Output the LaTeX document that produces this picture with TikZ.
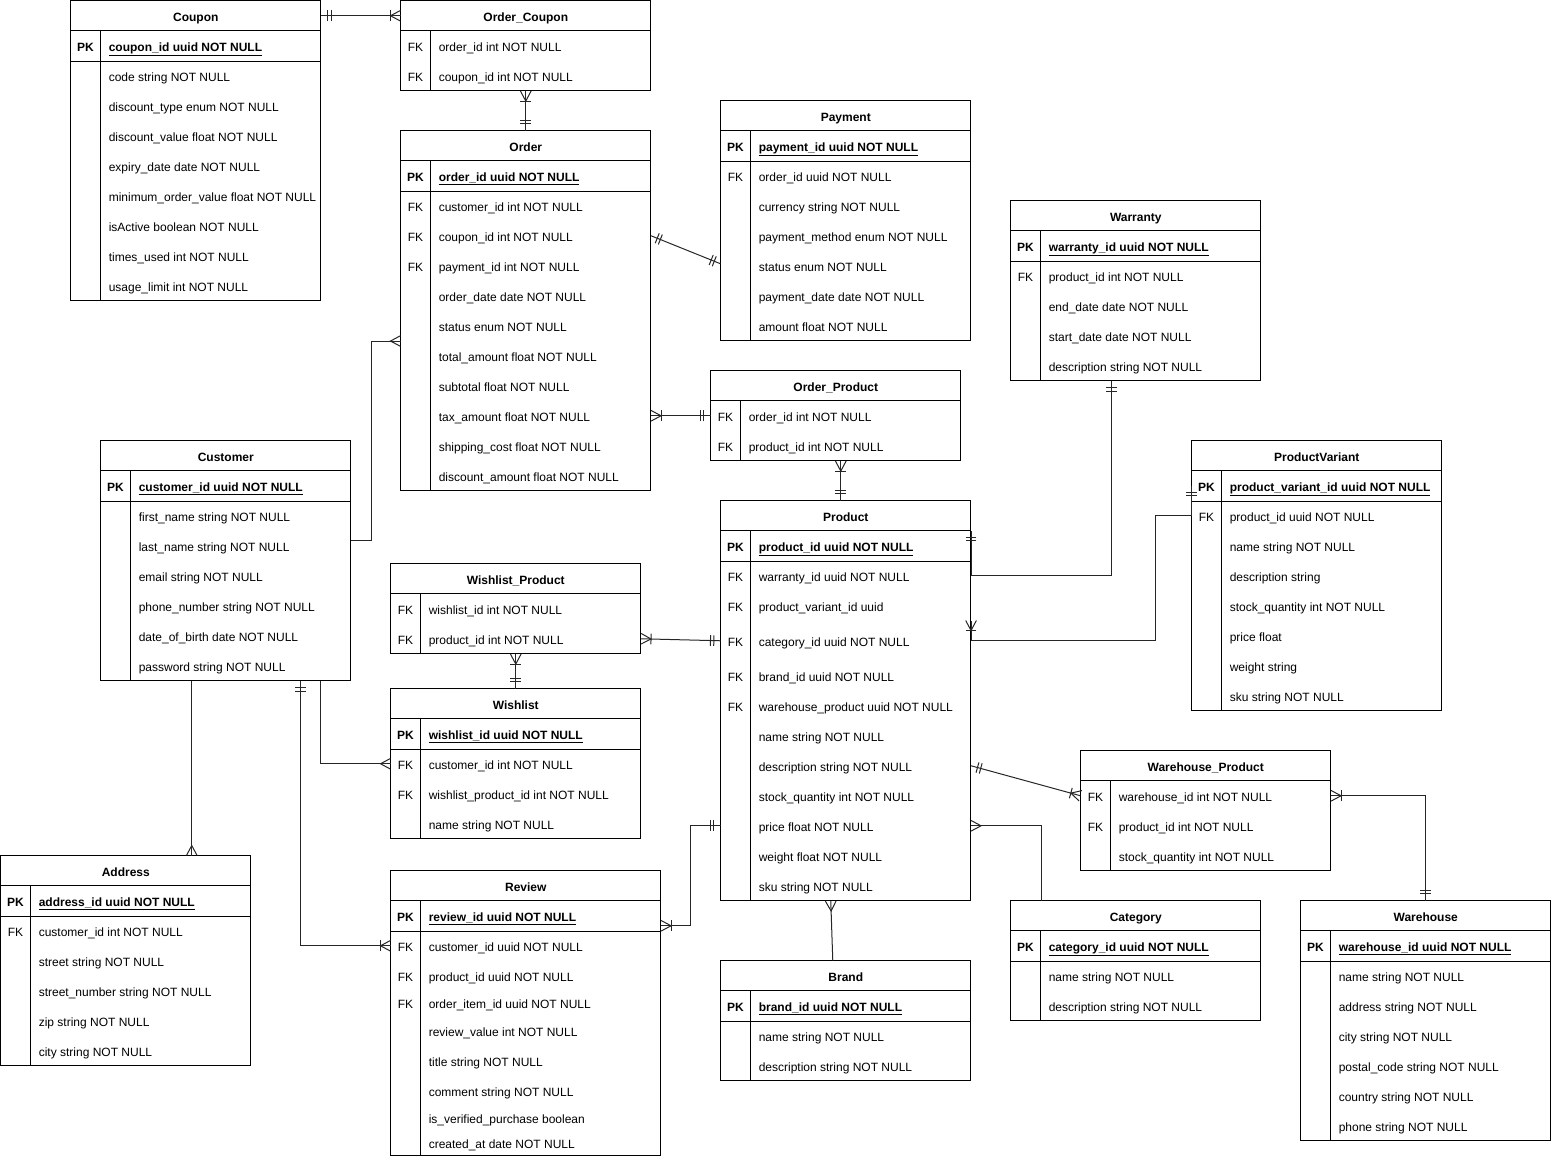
\documentclass[tikz,border=0pt]{standalone}
\usepackage{fontspec}
\setmainfont{Liberation Sans}
\usepackage{tikz}
\usetikzlibrary{calc,decorations.markings}

\newcommand{\pkf}[1]{\underline{\textbf{#1}}}

% one table: id, x, y, width, title, rows (key/field/height)
\newcommand{\ertable}[6]{%
  \node[tblhead, minimum width=#4*0.75pt] (#1) at (#2,#3) {#5};
  \gdef\ertcur{30}%
  \foreach \kk/\ff/\rh [count=\i] in {#6}{%
    \node[tblrow, minimum width=#4*0.75pt, minimum height=\rh*0.75pt] (#1-\i) at (#2,#3+\ertcur) {};
    \node[keytxt] (#1-k\i) at ($(#1-\i.west)+(15,0)$) {\kk};
    \node[fldtxt] (#1-f\i) at ($(#1-\i.west)+(38,0)$) {\ff};
    \pgfmathsetmacro\ertnext{\ertcur+\rh}%
    \xdef\ertcur{\ertnext}%
  }%
  \draw[tblline] (#2,#3) rectangle (#2+#4,#3+\ertcur);
  \draw[tblline] (#2,#3+30) -- (#2+#4,#3+30) (#2+30,#3+30) -- (#2+30,#3+\ertcur);
}

\tikzset{
  txt/.style={inner sep=0pt, text height=8pt, text depth=0pt, font=\fontsize{9}{11}\selectfont},
  tblhead/.style={txt, anchor=north west, minimum height=22.5pt, font=\fontsize{9}{11}\selectfont\bfseries},
  tblrow/.style={anchor=north west, inner sep=0pt},
  keytxt/.style={txt},
  fldtxt/.style={txt, anchor=west},
  tblline/.style={draw=black, line width=0.75pt},
  rel/.style={draw=black!85, line width=0.75pt},
  tick/.style={line width=0.75pt, black!85},
  one start/.style={postaction={decorate, decoration={markings,
    mark=at position 5pt with {\draw[tick] (0,-4pt) -- (0,4pt);},
    mark=at position 7.5pt with {\draw[tick] (0,-4pt) -- (0,4pt);}}}},
  one end/.style={postaction={decorate, decoration={markings,
    mark=at position -5pt with {\draw[tick] (0,-4pt) -- (0,4pt);},
    mark=at position -7.5pt with {\draw[tick] (0,-4pt) -- (0,4pt);}}}},
  many start/.style={postaction={decorate, decoration={markings,
    mark=at position 0 with {\draw[tick] (0,4pt) -- (7.5pt,0) -- (0,-4pt);}}}},
  many end/.style={postaction={decorate, decoration={markings,
    mark=at position 1 with {\draw[tick] (0,4pt) -- (-7.5pt,0) -- (0,-4pt);}}}},
  onemany start/.style={many start, postaction={decorate, decoration={markings,
    mark=at position 7.5pt with {\draw[tick] (0,-4pt) -- (0,4pt);}}}},
  onemany end/.style={many end, postaction={decorate, decoration={markings,
    mark=at position -7.5pt with {\draw[tick] (0,-4pt) -- (0,4pt);}}}},
}

\begin{document}
\begin{tikzpicture}[x=0.75pt, y=-0.75pt]
    \useasboundingbox (-0.5,-0.5) rectangle (1550.5,1155.5);

    % Tables
    \ertable{coupon}{70}{0}{250}{Coupon}{
      \textbf{PK}/\pkf{coupon\_id uuid NOT NULL}/30,
      /code string NOT NULL/30,
      /discount\_type enum NOT NULL/30,
      /discount\_value float NOT NULL/30,
      /expiry\_date date NOT NULL/30,
      /minimum\_order\_value float NOT NULL/30,
      /isActive boolean NOT NULL/30,
      /times\_used int NOT NULL/30,
      /usage\_limit int NOT NULL/30}
    \ertable{ocoupon}{400}{0}{250}{Order\_Coupon}{
      FK/order\_id int NOT NULL/30,
      FK/coupon\_id int NOT NULL/30}
    \ertable{order}{400}{130}{250}{Order}{
      \textbf{PK}/\pkf{order\_id uuid NOT NULL}/30,
      FK/customer\_id int NOT NULL/30,
      FK/coupon\_id int NOT NULL/30,
      FK/payment\_id int NOT NULL/30,
      /order\_date date NOT NULL/30,
      /status enum NOT NULL/30,
      /total\_amount float NOT NULL/30,
      /subtotal float NOT NULL/30,
      /tax\_amount float NOT NULL/30,
      /shipping\_cost float NOT NULL/30,
      /discount\_amount float NOT NULL/30}
    \ertable{payment}{720}{100}{250}{Payment}{
      \textbf{PK}/\pkf{payment\_id uuid NOT NULL}/30,
      FK/order\_id uuid NOT NULL/30,
      /currency string NOT NULL/30,
      /payment\_method enum NOT NULL/30,
      /status enum NOT NULL/30,
      /payment\_date date NOT NULL/30,
      /amount float NOT NULL/30}
    \ertable{warranty}{1010}{200}{250}{Warranty}{
      \textbf{PK}/\pkf{warranty\_id uuid NOT NULL}/30,
      FK/product\_id int NOT NULL/30,
      /end\_date date NOT NULL/30,
      /start\_date date NOT NULL/30,
      /description string NOT NULL/30}
    \ertable{oproduct}{710}{370}{250}{Order\_Product}{
      FK/order\_id int NOT NULL/30,
      FK/product\_id int NOT NULL/30}
    \ertable{customer}{100}{440}{250}{Customer}{
      \textbf{PK}/\pkf{customer\_id uuid NOT NULL}/30,
      /first\_name string NOT NULL/30,
      /last\_name string NOT NULL/30,
      /email string NOT NULL/30,
      /phone\_number string NOT NULL/30,
      /date\_of\_birth date NOT NULL/30,
      /password string NOT NULL/30}
    \ertable{pv}{1191}{440}{250}{ProductVariant}{
      \textbf{PK}/\pkf{product\_variant\_id uuid NOT NULL}/30,
      FK/product\_id uuid NOT NULL/30,
      /name string NOT NULL/30,
      /description string/30,
      /stock\_quantity int NOT NULL/30,
      /price float/30,
      /weight string/30,
      /sku string NOT NULL/30}
    \ertable{product}{720}{500}{250}{Product}{
      \textbf{PK}/\pkf{product\_id uuid NOT NULL}/30,
      FK/warranty\_id uuid NOT NULL/30,
      FK/product\_variant\_id uuid/30,
      FK/category\_id uuid NOT NULL/40,
      FK/brand\_id uuid NOT NULL/30,
      FK/warehouse\_product uuid NOT NULL/30,
      /name string NOT NULL/30,
      /description string NOT NULL/30,
      /stock\_quantity int NOT NULL/30,
      /price float NOT NULL/30,
      /weight float NOT NULL/30,
      /sku string NOT NULL/30}
    \ertable{wproduct}{390}{563}{250}{Wishlist\_Product}{
      FK/wishlist\_id int NOT NULL/30,
      FK/product\_id int NOT NULL/30}
    \ertable{wishlist}{390}{688}{250}{Wishlist}{
      \textbf{PK}/\pkf{wishlist\_id uuid NOT NULL}/30,
      FK/customer\_id int NOT NULL/30,
      FK/wishlist\_product\_id int NOT NULL/30,
      /name string NOT NULL/30}
    \ertable{address}{0}{855}{250}{Address}{
      \textbf{PK}/\pkf{address\_id uuid NOT NULL}/30,
      FK/customer\_id int NOT NULL/30,
      /street string NOT NULL/30,
      /street\_number string NOT NULL/30,
      /zip string NOT NULL/30,
      /city string NOT NULL/30}
    \ertable{review}{390}{870}{270}{Review}{
      \textbf{PK}/\pkf{review\_id uuid NOT NULL}/30,
      FK/customer\_id uuid NOT NULL/30,
      FK/product\_id uuid NOT NULL/30,
      FK/order\_item\_id uuid NOT NULL/25,
      /review\_value int NOT NULL/30,
      /title string NOT NULL/30,
      /comment string NOT NULL/30,
      /is\_verified\_purchase boolean/25,
      /created\_at date NOT NULL/25}
    \ertable{brand}{720}{960}{250}{Brand}{
      \textbf{PK}/\pkf{brand\_id uuid NOT NULL}/30,
      /name string NOT NULL/30,
      /description string NOT NULL/30}
    \ertable{whproduct}{1080}{750}{250}{Warehouse\_Product}{
      FK/warehouse\_id int NOT NULL/30,
      FK/product\_id int NOT NULL/30,
      /stock\_quantity int NOT NULL/30}
    \ertable{category}{1010}{900}{250}{Category}{
      \textbf{PK}/\pkf{category\_id uuid NOT NULL}/30,
      /name string NOT NULL/30,
      /description string NOT NULL/30}
    \ertable{warehouse}{1300}{900}{250}{Warehouse}{
      \textbf{PK}/\pkf{warehouse\_id uuid NOT NULL}/30,
      /name string NOT NULL/30,
      /address string NOT NULL/30,
      /city string NOT NULL/30,
      /postal\_code string NOT NULL/30,
      /country string NOT NULL/30,
      /phone string NOT NULL/30}

    % line under the primary key
    \foreach \tb in {coupon,order,payment,warranty,customer,pv,product,wishlist,address,review,brand,category,warehouse}
      \draw[tblline] (\tb-1.south west) -- (\tb-1.south east);

    % Relations
    \draw[rel, one start, onemany end] (coupon.east) -- (ocoupon.west);
    \draw[rel, onemany start, one end] (ocoupon-2.south) -- (order.north);
    \draw[rel, one start, one end] (order-3.east) -- ($(payment-5.west)+(0,-2)$);
    \draw[rel, many end] ($(customer-3.east)+(0,-5)$) -- ++(20,0) |- (order-6.south west);
    \draw[rel, onemany start, one end] (order-9.east) -- (oproduct-1.west);
    \draw[rel, onemany start, one end] ($(oproduct-2.south)+(5,0)$) coordinate (op) -- (op |- product.north);
    \draw[rel, one start, one end] ($(warranty-5.south)+(-24,0)$) |- (product-2.east) -- (product-1.north east);
    \draw[rel, one start, onemany end] (pv-1.west) -- (pv-2.west) -- ++(-36,0) |- (product-4.east) -- (product-4.north east);
    \draw[rel, onemany start, one end] (wproduct-2.east) -- (product-4.west);
    \draw[rel, onemany start, one end] (wproduct-2.south) -- (wishlist.north);
    \draw[rel, many end] ($(customer-7.south)+(95,0)$) |- (wishlist-2.west);
    \draw[rel, many end] ($(customer-7.south)+(-34,0)$) coordinate (ca) -- (ca |- address.north);
    \draw[rel, one start, onemany end] ($(customer-7.south)+(75,0)$) |- (review-2.west);
    \draw[rel, one start, onemany end] (product-10.west) -- ++(-30,0) |- ($(review-1.east)+(0,10)$);
    \draw[rel, many start] ($(product-12.south)+(-15,0)$) -- ($(brand.north)+(-13,0)$);
    \draw[rel, one start, onemany end] (product-8.east) -- (whproduct-1.west);
    \draw[rel, many start] (product-10.east) -| ($(category.north)+(-94,0)$);
    \draw[rel, onemany start, one end] (whproduct-1.east) -| (warehouse.north);
\end{tikzpicture}
\end{document}
